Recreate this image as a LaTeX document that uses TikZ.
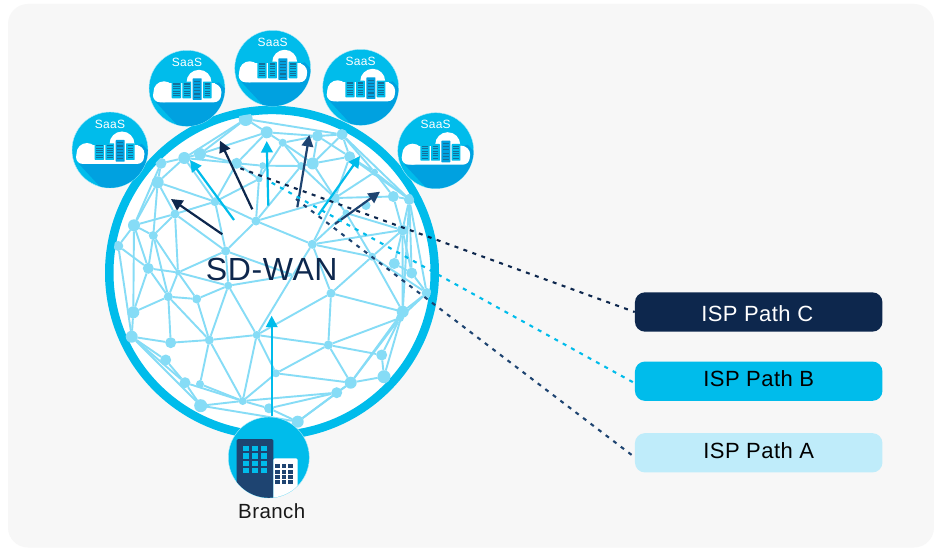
\documentclass[tikz,border=0pt]{standalone}
\usepackage{fontspec}
\setmainfont{Liberation Sans}[LetterSpace=2]
\usetikzlibrary{arrows.meta}
\definecolor{cy}{HTML}{00BCEB}
\definecolor{cyd}{HTML}{00A1E0}
\definecolor{meshc}{HTML}{86DCF6}
\definecolor{navy}{HTML}{0D274D}
\definecolor{blu}{HTML}{1E4471}
\definecolor{pale}{HTML}{BFECFA}
\definecolor{bgc}{HTML}{F7F7F7}
\definecolor{slat}{HTML}{14709C}
\tikzset{
  vert/.style={circle,fill=meshc,inner sep=0pt,outer sep=0pt},
  meshline/.style={meshc,line width=1.9pt},
  arrnavy/.style={navy,line width=2.2pt,-{Triangle[length=11.5pt,width=11.5pt]}},
  arrblu/.style={blu,line width=2.2pt,-{Triangle[length=11.5pt,width=11.5pt]}},
  arrcy/.style={cy,line width=2.2pt,-{Triangle[length=11.5pt,width=11.5pt]}},
  pathdash/.style={line width=2.1pt,dash pattern=on 4pt off 5.5pt},
  ispbox/.style={rounded corners=10pt,minimum width=247.5pt,minimum height=39.3pt,inner sep=0pt,font=\fontsize{22}{24}\selectfont},
  saasdisc/.style={circle,fill=cy,draw=white!70!cy,line width=.4pt,minimum size=76pt,inner sep=0pt}
}
\newcommand{\onesrv}[5]{%
  \fill[#5,rounded corners=.6pt] (#1,#3) rectangle (#2,#4);
  \foreach \sy in {1,...,6}{\draw[slat,line width=1.1pt] ({#1+1.5},{#3+1.2+(#4-#3-2.4)*(\sy-.5)/6}) -- ({#2-1.5},{#3+1.2+(#4-#3-2.4)*(\sy-.5)/6});}
}
\newcommand{\saas}[3]{%
  \node[saasdisc] (#1) at (#2,#3) {};
  \begin{scope}[shift={(#2,#3)}]
    \begin{scope}
      \clip (0,0) circle (37.8);
      \fill[cyd] (-31,14) -- (-5,42) -- (45,42) -- (45,8) -- (32,-6) -- cycle;
    \end{scope}
    \fill[white,rounded corners=7pt] (-34,0) rectangle (34,14);
    \fill[white] (-23,3.5) circle (10.5);
    \fill[white] (-23,-5) rectangle (28,6);
    \fill[white] (25.5,4) circle (9);
    \fill[white] (12,-6) circle (12.5);
    \onesrv{-15.3}{-6}{-6.7}{10}{cy}
    \onesrv{-4.7}{4.2}{-6.7}{10}{cy}
    \onesrv{5.7}{14.7}{-10}{11.7}{cyd}
    \onesrv{16}{24.7}{-6.7}{10}{cy}
    \node[text=white,font=\fontsize{12}{14}\selectfont,inner sep=0pt] (#1t) at (0,-26) {SaaS};
  \end{scope}
}
\begin{document}
\begin{tikzpicture}[x=1pt,y=-1pt]
\useasboundingbox (0,0) rectangle (934,548);
\fill[white] (0,0) rectangle (934,548);
\fill[bgc,rounded corners=20pt] (8,4) rectangle (934,547.5);
% ring
\node[circle,fill=white,draw=cy,line width=8.5pt,minimum size=325.5pt,inner sep=0pt] (ring) at (272,272.7) {};
% mesh
\begin{scope}
\clip (272,272.7) circle (160);
\foreach \nm/\px/\py/\rd in {
 a/245.7/119/7,b/266.7/132.3/6,c/282.7/142.7/4,d/317.5/136/5.5,e/342/134.5/5.5,f/349.7/156.7/5.5,
 g/312.7/163.5/6,h/301/166/4,i/262.7/165.7/3.5,j/236.7/163.3/5.5,k/200/154/6,l/184.3/158/6,
 m/161/163.3/5.5,n/157.7/182.3/6,o/259/179/3.5,p/215/201.7/4.5,q/175/214/4.5,r/256/221/4.5,
 s/134/225.3/6,t/153.3/235.5/4.5,u/118.3/246/5,v/225.7/251/4.5,w/312.3/244.3/4.5,x/335/198/5,
 y/366/205.5/4.5,z/393.3/196.5/5.5,A/409.3/199.3/5.5,B/402.5/230/5.5,C/374.5/172.2/3.5,D/346/213/3.5,
 E/372/256.7/4,F/394.3/263.5/5.5,G/411.7/273/5.5,H/426.7/293/5,I/402.7/311.7/6,J/400/318/4,
 K/331/293.3/4.5,L/256.7/335/4,M/209.3/340/4.5,N/228.3/285.7/4,O/178/272.5/3,P/148.3/268.3/5.5,
 Q/168.3/296.7/4.5,R/196.7/299/4.5,S/133.3/312.3/6,T/131.7/336.7/6,U/170.7/342.7/5.5,V/165.7/360/5.5,
 W/185/382.7/5.5,X/200/384/4,Y/200.7/405.7/6.5,Z/242.7/401/4,a1/269/408.3/5,a2/297.7/421.7/6,
 a3/276/373.3/4,a4/328.3/345/4.5,a5/350.7/382.7/6,a6/381.7/355/5.5,a7/384/376.7/6.5,a8/336.7/392.7/5.5,a9/293/275/1}
 {\node[vert,minimum size=2*\rd pt] (\nm) at (\px,\py) {};}
\foreach \ea/\eb in {
 a/b,a/e,a/k,a/l,b/c,b/d,b/k,b/j,c/d,c/h,c/g,c/o,d/e,d/f,d/g,e/f,e/g,e/C,f/g,f/C,f/x,g/h,g/x,h/i,h/r,h/x,
 i/j,i/o,j/k,j/l,j/o,j/p,k/l,l/m,l/n,m/s,m/n,n/s,n/p,n/q,n/t,p/q,p/r,l/p,p/o,o/r,q/s,q/t,s/t,s/u,
 u/T,s/S,s/P,t/P,t/O,t/Q,q/O,q/v,p/v,r/v,r/w,r/x,x/w,x/C,x/z,D/x,D/w,D/B,D/E,w/E,w/B,w/K,w/a9,E/B,E/K,E/I,E/H,
 C/z,C/A,e/A,f/A,z/A,z/B,A/B,A/H,A/I,A/G,B/F,B/G,B/I,F/G,G/H,H/I,H/J,I/K,J/a4,K/a4,K/L,L/a9,L/N,L/M,L/a4,L/Z,L/a3,
 a4/a3,a4/a6,a4/a5,a3/a5,a3/Z,a5/J,a5/I,a6/J,a7/I,a6/a7,a5/a7,a8/a5,Z/a8,Y/Z,Y/a2,Z/a1,a1/a8,a1/a2,a2/a5,a2/a8,X/Z,W/Z,
 W/Y,V/W,V/T,T/W,T/Y,U/M,U/T,S/T,S/Q,S/P,Q/R,Q/M,Q/U,Q/P,Q/O,R/O,R/M,R/N,N/M,N/a9,N/O,v/N,v/O,v/a9,O/P,M/X,M/Z,u/P}
 {\draw[meshline] (\ea) -- (\eb);}
\end{scope}
\node[text=navy,font=\fontsize{32}{34}\selectfont,inner sep=0pt] (sdwan) at (271.7,269) {SD-WAN};
% discs
\saas{s1}{110}{150}
\saas{s2}{187}{88.3}
\saas{s3}{272.7}{68.3}
\saas{s4}{360.7}{87.3}
\saas{s5}{435.7}{150.7}
% branch
\node[circle,fill=cy,draw=white!70!cy,line width=.4pt,minimum size=81pt,inner sep=0pt] (br) at (268.8,457.5) {};
\begin{scope}
\clip (268.8,457.5) circle (40.3);
\fill[blu,rounded corners=1.5pt] (236.7,439) rectangle (273.3,505);
\fill[white,rounded corners=1.5pt] (273.3,458.3) rectangle (297.7,505);
\foreach \wx in {243.3,252,260.7}{\foreach \wy in {445.7,453.3,460.7,468}{\fill[cy] (\wx,\wy) rectangle ++(6,5.3);}}
\foreach \wx in {275.3,282,288.3}{\foreach \wy in {464,470,475.2,480.3}{\fill[blu] (\wx,\wy) rectangle ++(4.2,3.7);}}
\end{scope}
\node[text=black!90,font=\fontsize{20.5}{22}\selectfont,inner sep=0pt] (brt) at (271.7,510.7) {Branch};
% arrows
\coordinate (a1s) at (222.3,234.3); \coordinate (a1e) at (171,199);
\coordinate (a2s) at (252.3,209.3); \coordinate (a2e) at (220,140.7);
\coordinate (a3s) at (297.3,207.3); \coordinate (a3e) at (309.3,135);
\coordinate (a4s) at (335,224); \coordinate (a4e) at (380,191.7);
\coordinate (a5s) at (234,220); \coordinate (a5e) at (190,160);
\coordinate (a6s) at (268.3,205.7); \coordinate (a6e) at (266.7,141);
\coordinate (a7s) at (318.3,215); \coordinate (a7e) at (360,156);
\coordinate (a8s) at (271.7,416); \coordinate (a8e) at (271.7,315.7);
\draw[arrcy] (a5s) -- (a5e);
\draw[arrcy] (a6s) -- (a6e);
\draw[arrcy] (a7s) -- (a7e);
\draw[arrcy] (a8s) -- (a8e);
\draw[arrnavy] (a1s) -- (a1e);
\draw[arrnavy] (a2s) -- (a2e);
\draw[arrblu] (a3s) -- (a3e);
\draw[arrblu] (a4s) -- (a4e);
% boxes
\node[ispbox,fill=navy,text=white,text height=18.4pt,text depth=0pt] (pc) at (758.7,312) {\hspace*{-3pt}ISP Path C};
\node[ispbox,fill=cy,text=black,text height=11.2pt,text depth=0pt] (pb) at (758.7,381.2) {ISP Path B};
\node[ispbox,fill=pale,text=black,text height=12.2pt,text depth=0pt] (pa) at (758.7,452.8) {ISP Path A};
% dashed
\coordinate (dc) at (240.3,168.3);
\coordinate (db) at (271.7,182.7);
\coordinate (da) at (296,199);
\draw[pathdash,navy] (dc) -- (pc.west);
\draw[pathdash,cy] (db) -- ([yshift=-2pt]pb.west);
\draw[pathdash,blu] (da) -- ([yshift=-4.5pt]pa.west);
\end{tikzpicture}
\end{document}
